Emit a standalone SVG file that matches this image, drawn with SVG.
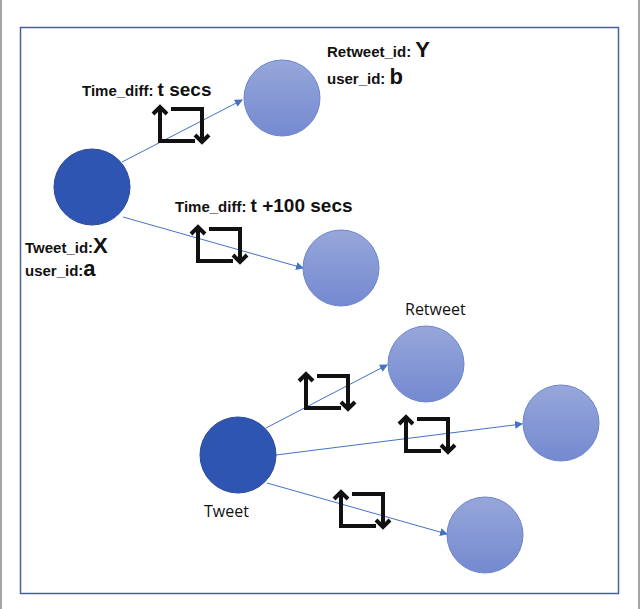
<svg xmlns="http://www.w3.org/2000/svg" xmlns:xlink="http://www.w3.org/1999/xlink" width="640" height="609" viewBox="0 0 640 609">
<style>
.t{fill:#2f55b3;stroke:#2b4a9c;stroke-width:1}
.r{fill:url(#g);stroke:#6a84d0;stroke-width:1}
.c{stroke:#4472c4;stroke-width:1;fill:none}
.lb{font-family:"Liberation Sans",Arial,sans-serif;font-weight:bold;fill:#111}
.n{font-family:"Open Sans","Liberation Sans",sans-serif;fill:#111;font-size:16px}
.ic{fill:none;stroke:#111;stroke-width:4}
</style>
<defs>
<linearGradient id="g" x1="0" y1="0" x2="0" y2="1"><stop offset="0" stop-color="#97a7da"/><stop offset="1" stop-color="#7489d0"/></linearGradient>
<marker id="a" markerWidth="8" markerHeight="8" refX="7" refY="4" orient="auto" markerUnits="userSpaceOnUse"><path d="M0,0 L8,4 L0,8 z" fill="#4472c4"/></marker>
<symbol id="rt" overflow="visible"><path class="ic" d="M-4,7 L3,0 L10,7 M3,0 V34 H38 M14,2 H45 V35 M38,28 L45,35 L52,28"/></symbol>
</defs>
<rect x="1" y="-2" width="638" height="620" fill="none" stroke="#888" stroke-width="1.5"/>
<rect x="20.5" y="27.5" width="598" height="566" fill="none" stroke="#4a5f9a" stroke-width="1.5"/>
<g id="connectors">
<line class="c" x1="122" y1="162" x2="242" y2="100" marker-end="url(#a)"/>
<line class="c" x1="123" y1="217" x2="303" y2="268" marker-end="url(#a)"/>
<line class="c" x1="266" y1="428" x2="387" y2="365" marker-end="url(#a)"/>
<line class="c" x1="276" y1="455" x2="522" y2="424" marker-end="url(#a)"/>
<line class="c" x1="267" y1="483" x2="447" y2="534" marker-end="url(#a)"/>
<use href="#rt" x="157" y="107"/>
<use href="#rt" x="195" y="227"/>
<use href="#rt" x="303" y="374"/>
<use href="#rt" x="403" y="417"/>
<use href="#rt" x="338" y="492"/>
<text class="lb" x="82" y="96" font-size="15">Time_diff: <tspan font-size="19">t secs</tspan></text>
<text class="lb" x="175" y="212" font-size="15">Time_diff: <tspan font-size="19">t +100 secs</tspan></text>
</g>
<g id="tweetX"><circle class="t" cx="92" cy="187" r="38"/>
<text class="lb" x="25" y="253" font-size="15">Tweet_id:<tspan font-size="22">X</tspan></text>
<text class="lb" x="25" y="276" font-size="15">user_id:<tspan font-size="22">a</tspan></text></g>
<g id="retweetY"><circle class="r" cx="282" cy="98" r="38"/>
<text class="lb" x="327" y="57" font-size="15">Retweet_id: <tspan font-size="22">Y</tspan></text>
<text class="lb" x="327" y="84" font-size="15">user_id: <tspan font-size="22">b</tspan></text></g>
<g id="retweet2"><circle class="r" cx="341" cy="268" r="38"/></g>
<g id="tweet"><circle class="t" cx="238" cy="455" r="38"/><text class="n" x="204" y="517">Tweet</text></g>
<g id="retweetA"><circle class="r" cx="426" cy="364" r="38"/><text class="n" x="405" y="315">Retweet</text></g>
<g id="retweetB"><circle class="r" cx="561" cy="423" r="38"/></g>
<g id="retweetC"><circle class="r" cx="485" cy="535" r="38"/></g>
</svg>
